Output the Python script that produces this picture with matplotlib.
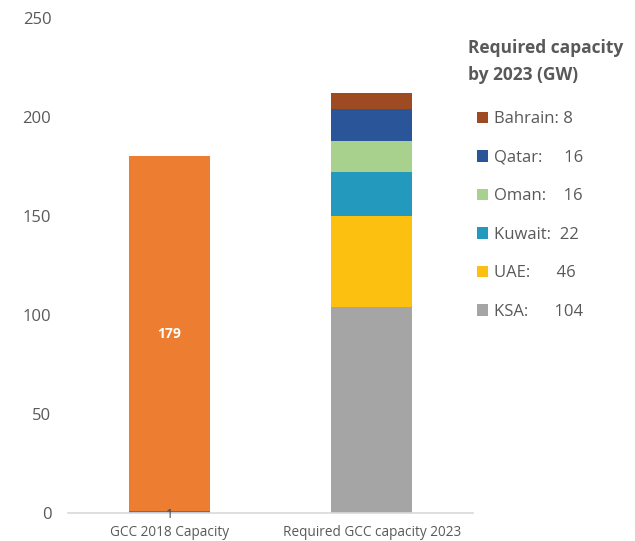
import matplotlib.pyplot as plt
from matplotlib.patches import Patch

plt.rcParams["font.family"] = ["Open Sans", "DejaVu Sans"]

categories = ["GCC 2018 Capacity", "Required GCC capacity 2023"]

# 2018 installed capacity (GW), split in two stacked parts
capacity_2018_main = 179
capacity_2018_other = 1

# required capacity by 2023, stacked bottom to top
countries = ["KSA", "UAE", "Kuwait", "Oman", "Qatar", "Bahrain"]
required_2023 = [104, 46, 22, 16, 16, 8]
country_colors = ["#A5A5A5", "#FCC010", "#239ABD", "#A9D18E", "#2A5699", "#9E4A22"]
legend_labels = {
    "Bahrain": "Bahrain: 8",
    "Qatar": "Qatar:     16",
    "Oman": "Oman:    16",
    "Kuwait": "Kuwait:  22",
    "UAE": "UAE:      46",
    "KSA": "KSA:      104",
}

text_color = "#595959"
width = 0.4

fig = plt.figure(figsize=(6.35, 5.41), dpi=100)
ax = fig.add_axes([0.107, 0.052, 0.638, 0.915])

# first column
ax.bar(0, capacity_2018_other, width, color="#4472C4")
ax.bar(0, capacity_2018_main, width, bottom=capacity_2018_other, color="#ED7D31")
ax.text(0, capacity_2018_other + capacity_2018_main / 2, str(capacity_2018_main),
        ha="center", va="center", color="white", fontsize=10, fontweight="bold")
ax.text(0, -0.8, str(capacity_2018_other), ha="center", va="center",
        color="#404040", fontsize=9.5)

# second column, stacked by country
handles = []
bottom = 0
for name, val, col in zip(countries, required_2023, country_colors):
    ax.bar(1, val, width, bottom=bottom, color=col)
    bottom += val
    handles.append(Patch(facecolor=col, label=legend_labels[name]))

ax.set_xlim(-0.5, 1.5)
ax.set_ylim(0, 250)
ax.set_yticks(range(0, 251, 50))
ax.set_xticks([0, 1])
ax.set_xticklabels(categories, fontsize=9.8, color=text_color)
ax.tick_params(axis="y", length=0, pad=12, labelsize=12, labelcolor=text_color)
ax.tick_params(axis="x", length=0, pad=9)

for side in ["top", "right", "left"]:
    ax.spines[side].set_visible(False)
ax.spines["bottom"].set_color("#D9D9D9")
ax.spines["bottom"].set_linewidth(1.2)

fig.text(0.737, 0.927, "Required capacity\nby 2023 (GW)", ha="left", va="top",
         fontsize=12.5, fontweight="bold", color=text_color, linespacing=1.6)

fig.legend(handles[::-1], [h.get_label() for h in handles[::-1]],
           loc="upper left", bbox_to_anchor=(0.728, 0.822), frameon=False,
           fontsize=12, labelcolor=text_color, handlelength=0.65,
           handleheight=0.65, handletextpad=0.35, labelspacing=1.35)

fig.savefig("out.png", dpi=100)
